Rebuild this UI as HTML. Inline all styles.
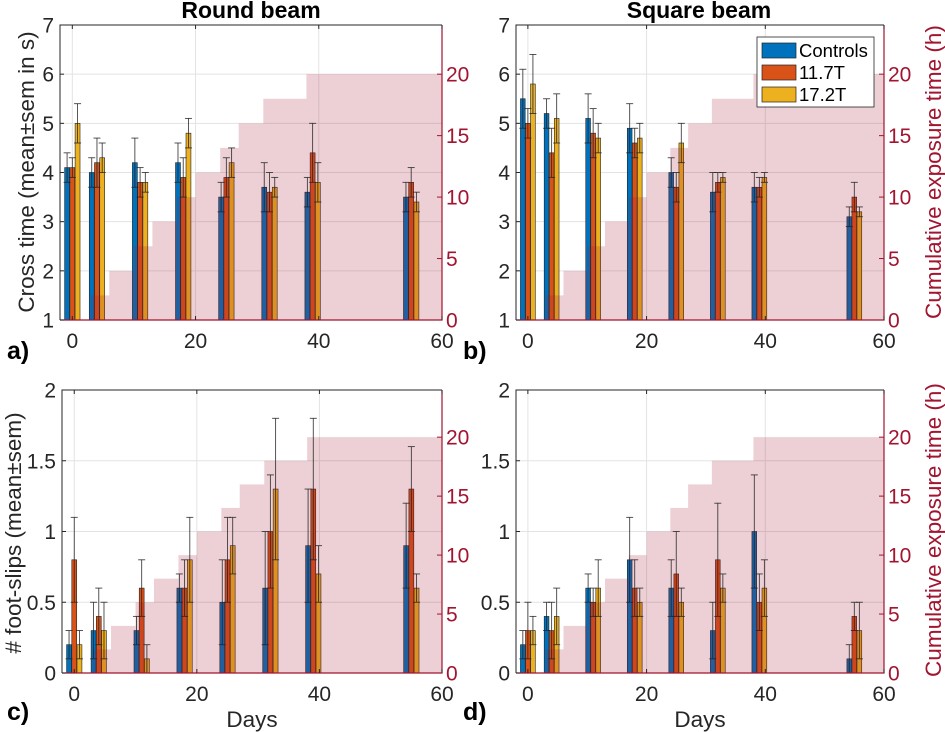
<!DOCTYPE html>
<html><head><meta charset="utf-8">
<style>
html,body{margin:0;padding:0;background:#fff;}
svg{display:block;font-family:"Liberation Sans",Arial,sans-serif;}
</style></head>
<body>
<svg id="fig" width="945" height="732" viewBox="0 0 945 732" xmlns="http://www.w3.org/2000/svg"></svg>
<script>
// ---- data ----
const days = [0, 4, 11, 18, 25, 32, 39, 55];
const seriesNames = ["Controls", "11.7T", "17.2T"];
// Round beam cross time
const roundCtrl = [4.1, 4.0, 4.2, 4.2, 3.5, 3.7, 3.6, 3.5];
const roundCtrlSem = [0.3, 0.3, 0.5, 0.4, 0.3, 0.5, 0.3, 0.3];
const round117 = [4.1, 4.2, 3.8, 3.9, 3.9, 3.6, 4.4, 3.8];
const round117Sem = [0.2, 0.5, 0.3, 0.4, 0.4, 0.4, 0.6, 0.3];
const round172 = [5.0, 4.3, 3.8, 4.8, 4.2, 3.7, 3.8, 3.4];
const round172Sem = [0.4, 0.3, 0.2, 0.3, 0.3, 0.2, 0.4, 0.2];
// Square beam cross time
const squareCtrl = [5.5, 5.2, 5.1, 4.9, 4.0, 3.6, 3.7, 3.1];
const squareCtrlSem = [0.6, 0.3, 0.5, 0.5, 0.3, 0.4, 0.3, 0.2];
const square117 = [5.0, 4.4, 4.8, 4.6, 3.7, 3.8, 3.7, 3.5];
const square117Sem = [0.3, 0.5, 0.5, 0.3, 0.3, 0.2, 0.2, 0.3];
const square172 = [5.8, 5.1, 4.7, 4.7, 4.6, 3.9, 3.9, 3.2];
const square172Sem = [0.6, 0.5, 0.3, 0.3, 0.4, 0.1, 0.1, 0.1];
// Round beam foot-slips
const roundSlipCtrl = [0.2, 0.3, 0.3, 0.6, 0.5, 0.6, 0.9, 0.9];
const roundSlipCtrlSem = [0.1, 0.2, 0.1, 0.1, 0.3, 0.4, 0.4, 0.3];
const roundSlip117 = [0.8, 0.4, 0.6, 0.6, 0.8, 1.0, 1.3, 1.3];
const roundSlip117Sem = [0.3, 0.2, 0.2, 0.2, 0.3, 0.4, 0.5, 0.3];
const roundSlip172 = [0.2, 0.3, 0.1, 0.8, 0.9, 1.3, 0.7, 0.6];
const roundSlip172Sem = [0.1, 0.2, 0.1, 0.3, 0.2, 0.5, 0.2, 0.1];
// Square beam foot-slips
const squareSlipCtrl = [0.2, 0.4, 0.6, 0.8, 0.6, 0.3, 1.0, 0.1];
const squareSlipCtrlSem = [0.1, 0.1, 0.1, 0.3, 0.2, 0.2, 0.4, 0.1];
const squareSlip117 = [0.3, 0.3, 0.5, 0.6, 0.7, 0.8, 0.5, 0.4];
const squareSlip117Sem = [0.2, 0.2, 0.1, 0.2, 0.3, 0.4, 0.2, 0.1];
const squareSlip172 = [0.3, 0.4, 0.6, 0.5, 0.5, 0.6, 0.6, 0.3];
const squareSlip172Sem = [0.1, 0.2, 0.2, 0.1, 0.1, 0.1, 0.2, 0.2];
// Cumulative exposure steps
const stepDays = [3, 6, 10, 13, 17, 20, 24, 27, 31, 38];
const stepHours = [2, 4, 6, 8, 10, 12, 14, 16, 18, 20];
const xTicks = [0, 20, 40, 60];
const timeTicks = [1, 2, 3, 4, 5, 6, 7];
const slipTicks = [0, 0.5, 1, 1.5, 2];
const slipTickLabels = ["0", "0.5", "1", "1.5", "2"];
const hourTicks = [0, 5, 10, 15, 20];

const NS = "http://www.w3.org/2000/svg";
const svg = document.getElementById("fig");
const colors = ["#0072BD", "#D95319", "#EDB120"];
const red = "#A2142F";

function mk(tag, attrs, parent) {
  const e = document.createElementNS(NS, tag);
  for (const k in attrs) e.setAttribute(k, attrs[k]);
  (parent || svg).appendChild(e);
  return e;
}
function txt(s, attrs, parent) {
  const e = mk("text", attrs, parent);
  e.textContent = s;
  return e;
}

function panel(cfg) {
  const g = mk("g", {});
  
  
  const xs = d => cfg.l + (d - (-2)) / 62 * (cfg.r - cfg.l);
  const ys = v => cfg.b - (v - cfg.ymin) / (cfg.ymax - cfg.ymin) * (cfg.b - cfg.t);
  const hs = h => cfg.b - h / 24 * (cfg.b - cfg.t);
  xTicks.forEach(t => {
    const ln = mk("line", {x1: xs(t), x2: xs(t), y1: cfg.t, y2: cfg.b, stroke: "#e3e3e3", "stroke-width": 1}, g);
    
    
  });
  cfg.yt.forEach(t => {
    const ln = mk("line", {x1: cfg.l, x2: cfg.r, y1: ys(t), y2: ys(t), stroke: "#e3e3e3", "stroke-width": 1}, g);
    
    
  });
  const off = [-0.85, 0, 0.85];
  const bw = 0.8;
  cfg.series.forEach((s, si) => {
    s.vals.forEach((v, i) => {
      const x0 = xs(days[i] + off[si] - bw / 2), x1 = xs(days[i] + off[si] + bw / 2);
      const r = mk("rect", {x: x0, y: ys(v), width: x1 - x0, height: ys(cfg.ymin) - ys(v), fill: colors[si], stroke: "#222", "stroke-width": 0.6}, g);
      
      
    });
  });
  let d = "M" + xs(stepDays[0]) + "," + hs(0);
  stepDays.forEach((sd, i) => {
    const prev = i === 0 ? 0 : stepHours[i - 1];
    d += " L" + xs(sd) + "," + hs(prev) + " L" + xs(sd) + "," + hs(stepHours[i]);
  });
  d += " L" + xs(60) + "," + hs(stepHours[stepHours.length - 1]) + " L" + xs(60) + "," + hs(0) + " Z";
  const sh = mk("path", {d: d, fill: red, "fill-opacity": 0.2}, g);
  
  
  cfg.series.forEach((s, si) => {
    s.vals.forEach((v, i) => {
      const cx = xs(days[i] + off[si]);
      const lo = ys(v - s.sem[i]), hi = ys(v + s.sem[i]);
      const eg = mk("g", {stroke: "#222", "stroke-width": 0.9, "stroke-opacity": 0.85}, g);
      
      
      mk("line", {x1: cx, x2: cx, y1: lo, y2: hi}, eg);
      mk("line", {x1: cx - 3.5, x2: cx + 3.5, y1: lo, y2: lo}, eg);
      mk("line", {x1: cx - 3.5, x2: cx + 3.5, y1: hi, y2: hi}, eg);
    });
  });
  const ax = mk("path", {d: `M${cfg.l},${cfg.b} L${cfg.l},${cfg.t} L${cfg.r},${cfg.t}`, fill: "none", stroke: "#262626", "stroke-width": 1}, g);
  
  
  const ra = mk("path", {d: `M${cfg.r},${cfg.t} L${cfg.r},${cfg.b} L${cfg.l},${cfg.b}`, fill: "none", stroke: red, "stroke-width": 1.2}, g);
  
  
  xTicks.forEach(t => {
    mk("line", {x1: xs(t), x2: xs(t), y1: cfg.b, y2: cfg.b - 4, stroke: "#262626"}, g);
    mk("line", {x1: xs(t), x2: xs(t), y1: cfg.t, y2: cfg.t + 4, stroke: "#262626"}, g);
    const tl = txt(String(t), {x: xs(t), y: cfg.b + 28, "font-size": 21, "text-anchor": "middle", fill: "#262626"}, g);
    
    
  });
  cfg.yt.forEach((t, i) => {
    mk("line", {x1: cfg.l, x2: cfg.l + 4, y1: ys(t), y2: ys(t), stroke: "#262626"}, g);
    const tl = txt(cfg.ytl[i], {x: cfg.l - 6, y: ys(t) + 7.5, "font-size": 21, "text-anchor": "end", fill: "#262626"}, g);
    
    
  });
  hourTicks.forEach(t => {
    mk("line", {x1: cfg.r, x2: cfg.r - 5, y1: hs(t), y2: hs(t), stroke: red}, g);
    const tl = txt(String(t), {x: cfg.r + 4, y: hs(t) + 7.5, "font-size": 21, fill: red}, g);
    
    
  });
  return {xs, ys};
}

panel({name: "panel-a-round-cross-time", l: 60, r: 442, t: 25, b: 320, ymin: 1, ymax: 7, yt: timeTicks, ytl: timeTicks.map(String),
  series: [{vals: roundCtrl, sem: roundCtrlSem}, {vals: round117, sem: round117Sem}, {vals: round172, sem: round172Sem}]});
panel({name: "panel-b-square-cross-time", l: 516, r: 884, t: 25, b: 320, ymin: 1, ymax: 7, yt: timeTicks, ytl: timeTicks.map(String),
  series: [{vals: squareCtrl, sem: squareCtrlSem}, {vals: square117, sem: square117Sem}, {vals: square172, sem: square172Sem}]});
panel({name: "panel-c-round-foot-slips", l: 62, r: 442, t: 390, b: 673, ymin: 0, ymax: 2, yt: slipTicks, ytl: slipTickLabels,
  series: [{vals: roundSlipCtrl, sem: roundSlipCtrlSem}, {vals: roundSlip117, sem: roundSlip117Sem}, {vals: roundSlip172, sem: roundSlip172Sem}]});
panel({name: "panel-d-square-foot-slips", l: 516, r: 884, t: 390, b: 673, ymin: 0, ymax: 2, yt: slipTicks, ytl: slipTickLabels,
  series: [{vals: squareSlipCtrl, sem: squareSlipCtrlSem}, {vals: squareSlip117, sem: squareSlip117Sem}, {vals: squareSlip172, sem: squareSlip172Sem}]});

function label(s, name, attrs) {
  const t = txt(s, attrs);
  
  
  return t;
}
label("Round beam", "title-round-beam", {x: 251, y: 18, "font-size": 23, "font-weight": "bold", "text-anchor": "middle", fill: "#000"});
label("Square beam", "title-square-beam", {x: 699, y: 18, "font-size": 23, "font-weight": "bold", "text-anchor": "middle", fill: "#000"});
label("Cross time (mean\u00b1sem in s)", "y-axis-title-cross-time", {x: 0, y: 0, "font-size": 22.5, "text-anchor": "middle", fill: "#262626", transform: "translate(34,172) rotate(-90)"});
label("# foot-slips (mean\u00b1sem)", "y-axis-title-foot-slips", {x: 0, y: 0, "font-size": 22.5, "text-anchor": "middle", fill: "#262626", transform: "translate(21,533) rotate(-90)"});
label("Cumulative exposure time (h)", "right-axis-title-top", {x: 0, y: 0, "font-size": 22.5, "text-anchor": "middle", fill: red, transform: "translate(941,172) rotate(-90)"});
label("Cumulative exposure time (h)", "right-axis-title-bottom", {x: 0, y: 0, "font-size": 22.5, "text-anchor": "middle", fill: red, transform: "translate(941,530) rotate(-90)"});
label("Days", "x-axis-title-c", {x: 252, y: 727, "font-size": 22.5, "text-anchor": "middle", fill: "#262626"});
label("Days", "x-axis-title-d", {x: 700, y: 727, "font-size": 22.5, "text-anchor": "middle", fill: "#262626"});
label("a)", "panel-label-a", {x: 7, y: 359, "font-size": 25, "font-weight": "bold", fill: "#000"});
label("b)", "panel-label-b", {x: 463, y: 359, "font-size": 25, "font-weight": "bold", fill: "#000"});
label("c)", "panel-label-c", {x: 7, y: 720, "font-size": 25, "font-weight": "bold", fill: "#000"});
label("d)", "panel-label-d", {x: 463, y: 720, "font-size": 25, "font-weight": "bold", fill: "#000"});

const lg = mk("g", {});


mk("rect", {x: 757, y: 37, width: 117, height: 70, fill: "#fff", stroke: "#262626", "stroke-width": 0.8}, lg);
seriesNames.forEach((n, i) => {
  const ey = 43 + i * 22;
  const ent = mk("g", {}, lg);
  
  
  mk("rect", {x: 762, y: ey, width: 34, height: 15, fill: colors[i], stroke: "#222", "stroke-width": 0.7}, ent);
  txt(n, {x: 799, y: ey + 14, "font-size": 18.5, fill: "#000"}, ent);
});
</script>
</body></html>
